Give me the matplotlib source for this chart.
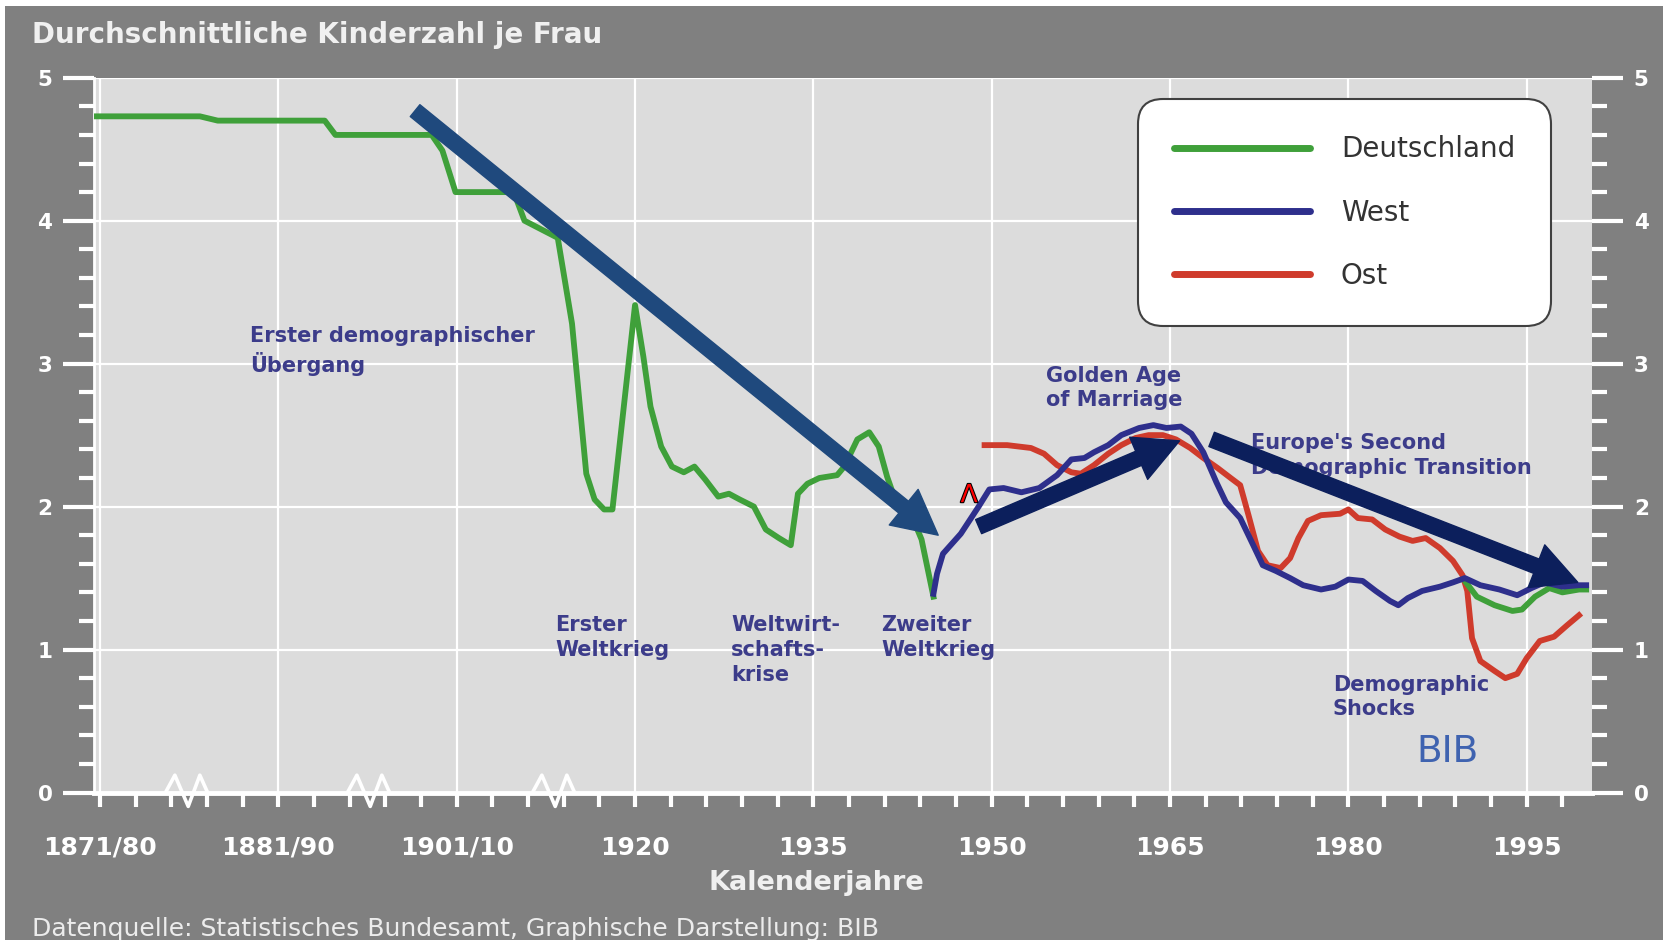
import numpy as np
import matplotlib
matplotlib.use('Agg')
import matplotlib.pyplot as plt
from matplotlib.lines import Line2D
from matplotlib.patches import Rectangle
from matplotlib.path import Path
import matplotlib.patheffects as pe

# x positions: from 1920 on real years, before that the broken axis
# (1871/80 -> 1875, 1881/90 -> 1890, 1901/10 -> 1905)
tick_pos = [1875, 1890, 1905, 1920, 1935, 1950, 1965, 1980, 1995]
tick_labels = ['1871/80', '1881/90', '1901/10', '1920', '1935', '1950', '1965', '1980', '1995']
break_pos = [1882.2, 1897.5, 1913.1]

de_x_early = [1874.7, 1883.4, 1884.9, 1893.9, 1894.8, 1902.9, 1903.8, 1904.9, 1909.8, 1910.7,
              1913.5, 1914.7, 1915.9, 1916.6, 1917.4, 1918.1, 1920.0, 1920.7, 1921.3, 1922.2,
              1923.1, 1924.1, 1925.0, 1925.9, 1927.0, 1927.9, 1928.8, 1930.0, 1931.0, 1932.1,
              1933.1, 1933.7, 1934.5, 1935.5, 1937.0, 1937.6, 1938.7, 1939.7, 1940.5, 1941.2,
              1942.0, 1943.2, 1944.1, 1945.1]
de_y_early = [4.73, 4.73, 4.70, 4.70, 4.60, 4.60, 4.49, 4.20, 4.20, 4.00,
              3.88, 3.28, 2.23, 2.05, 1.98, 1.98, 3.41, 3.05, 2.70, 2.42,
              2.28, 2.24, 2.28, 2.19, 2.07, 2.09, 2.05, 2.00, 1.84, 1.78,
              1.73, 2.09, 2.16, 2.20, 2.22, 2.28, 2.47, 2.52, 2.42, 2.21,
              2.02, 1.95, 1.77, 1.37]
de_x_late = [1989.8, 1990.8, 1992.3, 1993.8, 1994.6, 1995.7, 1996.9, 1998.0, 1999.4, 2000.0]
de_y_late = [1.48, 1.37, 1.31, 1.27, 1.28, 1.37, 1.43, 1.40, 1.42, 1.42]

west_x = [1945.1, 1945.4, 1945.9, 1947.4, 1948.9, 1949.8, 1951.0, 1952.5, 1954.0, 1955.5,
          1956.7, 1957.8, 1958.6, 1959.8, 1960.9, 1962.4, 1963.6, 1964.7, 1965.9, 1966.8,
          1967.8, 1968.9, 1969.7, 1970.9, 1972.0, 1972.8, 1973.9, 1975.1, 1976.2, 1977.7,
          1978.9, 1980.0, 1981.2, 1982.3, 1983.5, 1984.2, 1985.0, 1986.2, 1987.7, 1988.8,
          1989.8, 1991.1, 1992.7, 1994.2, 1995.4, 1996.5, 1998.0, 1999.4, 2000.0]
west_y = [1.39, 1.53, 1.67, 1.81, 2.00, 2.12, 2.13, 2.10, 2.13, 2.22,
          2.33, 2.34, 2.38, 2.43, 2.50, 2.55, 2.57, 2.55, 2.56, 2.51,
          2.38, 2.17, 2.03, 1.92, 1.73, 1.59, 1.55, 1.50, 1.45, 1.42,
          1.44, 1.49, 1.48, 1.41, 1.34, 1.31, 1.36, 1.41, 1.44, 1.47,
          1.50, 1.45, 1.42, 1.38, 1.43, 1.47, 1.44, 1.45, 1.45]

ost_x = [1949.4, 1951.3, 1953.3, 1954.4, 1955.5, 1956.7, 1957.5, 1958.6, 1959.8, 1960.9,
         1962.1, 1963.2, 1964.4, 1965.5, 1966.7, 1967.8, 1969.0, 1970.1, 1970.9, 1971.6,
         1972.4, 1973.2, 1974.3, 1975.1, 1975.8, 1976.6, 1977.7, 1979.3, 1980.0, 1980.8,
         1982.0, 1983.1, 1984.3, 1985.4, 1986.5, 1987.7, 1988.8, 1989.6, 1990.0, 1990.4,
         1991.1, 1992.3, 1993.2, 1994.2, 1995.0, 1996.1, 1997.3, 1998.4, 1999.4]
ost_y = [2.43, 2.43, 2.41, 2.37, 2.29, 2.24, 2.23, 2.29, 2.37, 2.43,
         2.48, 2.50, 2.50, 2.47, 2.41, 2.34, 2.27, 2.20, 2.15, 1.94,
         1.69, 1.59, 1.57, 1.64, 1.78, 1.90, 1.94, 1.95, 1.98, 1.92,
         1.91, 1.84, 1.79, 1.76, 1.78, 1.71, 1.62, 1.52, 1.41, 1.08,
         0.92, 0.85, 0.80, 0.83, 0.94, 1.06, 1.09, 1.17, 1.24]

series_labels = ['Deutschland', 'West', 'Ost']
series_colors = ['#3fa03a', '#2e2f8c', '#cf3b2c']

# big trend arrows: (tail), (tip), colour
arrows = [((1901.5, 4.77), (1945.5, 1.80), '#1f497d'),
          ((1948.9, 1.86), (1965.8, 2.46), '#0c1f5c'),
          ((1968.5, 2.47), (1999.3, 1.47), '#0c1f5c')]

notes = [('Erster demographischer\nÜbergang', 1887.6, 3.09),
         ('Erster\nWeltkrieg', 1913.3, 1.087),
         ('Weltwirt-\nschafts-\nkrise', 1928.1, 0.997),
         ('Zweiter\nWeltkrieg', 1940.7, 1.087),
         ('Golden Age\nof Marriage', 1954.6, 2.83),
         ("Europe's Second\nDemographic Transition", 1971.8, 2.357),
         ('Demographic\nShocks', 1978.7, 0.668)]

plt.rcParams['font.family'] = 'DejaVu Sans'
plt.rcParams['font.weight'] = 'bold'

fig = plt.figure(figsize=(16.68, 9.40), dpi=100, facecolor='white')
fig.patches.append(Rectangle((0.003, 0), 0.994, 0.994, transform=fig.transFigure,
                             facecolor='#808080', edgecolor='none', zorder=-10))

ax = fig.add_axes([0.0564, 0.1569, 0.8981, 0.7604])
ax.set_facecolor('#dcdcdc')
ax.set_xlim(1874.5, 2000.5)
ax.set_ylim(0, 5)

for s in ['top', 'right']:
    ax.spines[s].set_visible(False)
ax.spines['left'].set_color('white')
ax.spines['left'].set_linewidth(2)
ax.spines['bottom'].set_color('white')
ax.spines['bottom'].set_linewidth(3.5)

ax.set_xticks(tick_pos)
ax.set_xticklabels(tick_labels)
ax.set_xticks(np.arange(1875, 2000, 3), minor=True)
ax.set_yticks(range(6))
ax.set_yticks(np.arange(0, 5.01, 0.2), minor=True)
ax.tick_params(axis='y', which='both', left=True, right=True, labelleft=True,
               labelright=True, colors='white', direction='out', width=3)
ax.tick_params(axis='y', which='major', length=22, pad=8, labelsize=15.5)
ax.tick_params(axis='y', which='minor', length=11)
ax.tick_params(axis='x', which='both', direction='out', colors='white', width=3,
               length=10, pad=21, labelsize=18)
ax.set_axisbelow(True)
ax.grid(True, which='major', color='white', lw=1.6)

# axis break marks
zig = Path([(-1, 0), (-0.54, 0.85), (0.08, -0.6), (0.62, 0.85), (1, 0)])
ax.plot(break_pos, [0] * len(break_pos), linestyle='none', marker=zig, markersize=31,
        markeredgecolor='white', markerfacecolor='none', markeredgewidth=2.6,
        clip_on=False, zorder=5)

ax.plot(ost_x, ost_y, color=series_colors[2], lw=4.2, zorder=3)
ax.plot(de_x_early, de_y_early, color=series_colors[0], lw=4.2, zorder=3)
ax.plot(de_x_late, de_y_late, color=series_colors[0], lw=4.2, zorder=3)
ax.plot(west_x, west_y, color=series_colors[1], lw=4.2, zorder=3)

for txt, x, y in notes:
    ax.text(x, y, txt, ha='left', va='center', fontsize=15, color='#3c3c8a',
            linespacing=1.3, zorder=4)
ax.text(1988.3, 0.283, 'BIB', ha='center', va='center', fontsize=27,
        fontweight='normal', color='#3f63b0', zorder=4)
ax.text(1948.1, 2.08, 'Λ', ha='center', va='center', fontsize=18, fontweight='normal',
        color='red', zorder=4,
        path_effects=[pe.withStroke(linewidth=1.5, foreground='black')])

for tail, tip, col in arrows:
    ax.annotate('', xy=tip, xytext=tail, zorder=6,
                arrowprops=dict(arrowstyle='simple,head_length=3.2,head_width=3.3,tail_width=1.1',
                                mutation_scale=10, color=col, shrinkA=0, shrinkB=0))

handles = [Line2D([], [], color=c, lw=5, solid_capstyle='round') for c in series_colors]
leg = ax.legend(handles, series_labels, loc='upper left', bbox_to_anchor=(0.697, 0.970),
                fontsize=20, handlelength=4.9, handletextpad=1.1, labelspacing=1.27,
                borderpad=1.3, borderaxespad=0, frameon=True, fancybox=True,
                framealpha=1, facecolor='white', edgecolor='#404040')
for t in leg.get_texts():
    t.set_color('#333333')
    t.set_fontweight('normal')
leg.get_frame().set_linewidth(1.5)
leg.get_frame().set_boxstyle('round,pad=0,rounding_size=0.9')
leg.set_zorder(10)

fig.text(32 / 1668, 1 - 35 / 940, 'Durchschnittliche Kinderzahl je Frau', color='#f0f0f0',
         fontsize=20, ha='left', va='center')
fig.text(816 / 1668, 1 - 883 / 940, 'Kalenderjahre', color='#f0f0f0', fontsize=19.5,
         ha='center', va='center')
fig.text(32 / 1668, 1 - 929 / 940,
         'Datenquelle: Statistisches Bundesamt, Graphische Darstellung: BIB',
         color='#ececec', fontsize=18, fontweight='normal', ha='left', va='center')

fig.savefig('out.png', dpi=100, facecolor=fig.get_facecolor())
